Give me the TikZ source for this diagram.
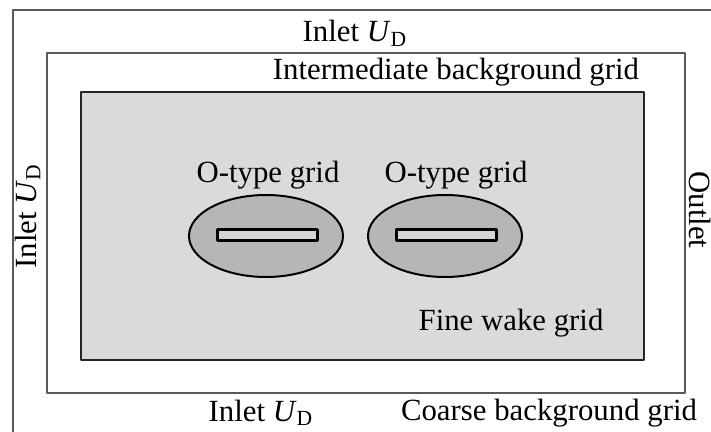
\documentclass[tikz,border=0pt]{standalone}
\usepackage{fontspec}
\setmainfont{Liberation Serif}
\usetikzlibrary{shapes.geometric}
\definecolor{wakegray}{HTML}{DADADA}
\definecolor{ogray}{HTML}{B6B6B6}
\definecolor{bargray}{HTML}{D4D4D4}
\definecolor{framegray}{HTML}{5A5A5A}
\begin{document}
\begin{tikzpicture}[x=0.5pt,y=-0.5pt,line join=round,
  font=\fontsize{15.4}{18}\selectfont,
  lbl/.style={inner sep=0pt,anchor=base},
  frame/.style={draw=framegray,line width=1pt},
  wake/.style={draw=black!85,line width=1.3pt,fill=wakegray},
  ogrid/.style={ellipse,draw=black,line width=1pt,fill=ogray,minimum width=77pt,minimum height=41pt,inner sep=0pt},
  plate/.style={rectangle,draw=black,line width=1.5pt,fill=bargray,minimum width=50pt,minimum height=5.5pt,inner sep=0pt}]
\def \xmin{0};
\def \xmax{711};
\def \ymin{0};
\def \ymax{432};
\useasboundingbox (\xmin,\ymin) rectangle (\xmax,\ymax);
% coarse, intermediate and fine wake grids
\draw[frame] (13,10) rectangle (730,450);
\draw[frame] (47,53) rectangle (685,393);
\draw[wake] (81,92) rectangle (644,360);
% O-type grids round the plates
\node[ogrid] (ell1) at (266,236) {};
\node[ogrid] (ell2) at (445,236) {};
\node[plate] (bar1) at (267,235) {};
\node[plate] (bar2) at (446,235) {};
% labels
\node[lbl] (intop) at (355,42) {Inlet \textit{U}\textsubscript{D}};
\node[lbl] (inter) at (456,80) {Intermediate background grid};
\node[lbl] (olab1) at (268,183) {O-type grid};
\node[lbl] (olab2) at (456,183) {O-type grid};
\node[lbl] (fine) at (511,330) {Fine wake grid};
\node[lbl,rotate=90] (inleft) at (36,216) {Inlet \textit{U}\textsubscript{D}};
\node[lbl,rotate=-90] (outlet) at (689,210) {Outlet};
\node[lbl] (inbot) at (261,421) {Inlet \textit{U}\textsubscript{D}};
\node[lbl] (coarse) at (549,420) {Coarse background grid};
\end{tikzpicture}
\end{document}
